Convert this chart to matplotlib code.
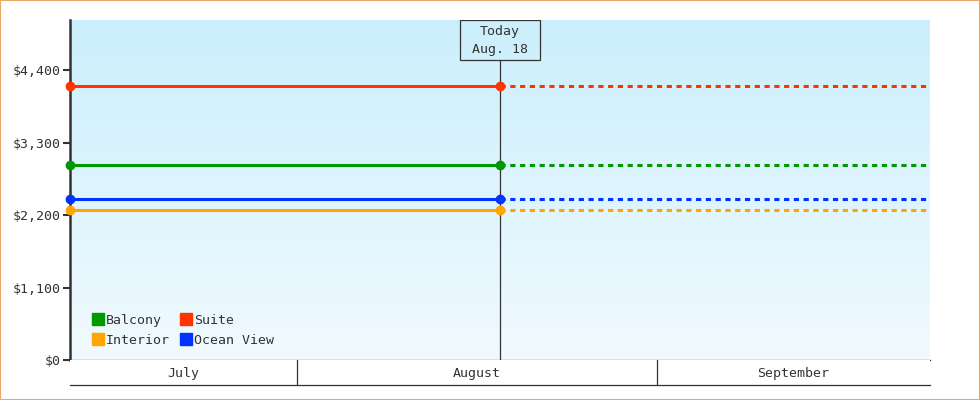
import matplotlib.pyplot as plt
import numpy as np
from matplotlib.patches import Rectangle

# days counted from Aug 1 (= 0)
x_start = -19.5
x_today = 17.5
x_end = 54.5
month_names = ['July', 'August', 'September']
month_edges = [x_start, 0, 31, x_end]

series = ['Balcony', 'Suite', 'Interior', 'Ocean View']
prices = [2955, 4150, 2270, 2440]
colors = ['#009900', '#ff3300', '#ffa500', '#0033ff']

yticks = [0, 1100, 2200, 3300, 4400]
ytick_labels = ['$0', '$1,100', '$2,200', '$3,300', '$4,400']

plt.rcParams['font.family'] = ['DejaVu Sans Mono']
ink = '#333333'

fig = plt.figure(figsize=(9.8, 4), dpi=100)
fig.patches.append(Rectangle((0, 0), 1, 1, transform=fig.transFigure,
                             fill=False, edgecolor='#e8a964', linewidth=1.5))

ax = fig.add_axes([70/980, 40/400, 860/980, 340/400])
ymax = 5159
ax.set_xlim(x_start, x_end)
ax.set_ylim(0, ymax)

# gradient background
grad = np.linspace(0, 1, 256).reshape(-1, 1)
top = np.array([203, 239, 252]) / 255
bot = np.array([241, 250, 255]) / 255
img = top * (1 - grad[..., None]) + bot * grad[..., None]
img = np.repeat(img, 2, axis=1)
ax.imshow(img, extent=[x_start, x_end, 0, ymax], aspect='auto', zorder=0)

for name, p, c in zip(series, prices, colors):
    ax.plot([x_start, x_today], [p, p], color=c, lw=2.2, zorder=3,
            solid_capstyle='butt')
    ax.plot([x_today, x_end], [p, p], color=c, lw=2.2, zorder=3,
            dashes=(1.7, 1.5))
    ax.plot([x_start, x_today], [p, p], 'o', color=c, ms=6, zorder=4,
            clip_on=False)

# today marker
box_top = ymax * 300/340
ax.plot([x_today, x_today], [0, box_top], color=ink, lw=0.9, zorder=2)
ax.add_patch(Rectangle(((460-70)/860, 300/340), 80/860, 40/340,
                       transform=ax.transAxes, fill=False, ec=ink, lw=0.9,
                       zorder=5))
ax.text(x_today, ymax * 320/340, 'Today\nAug. 18', ha='center', va='center',
        fontsize=9.5, color=ink, linespacing=1.5, zorder=5)

ax.set_yticks(yticks)
ax.set_yticklabels(ytick_labels, fontsize=9.5, color=ink)
ax.set_xticks([])
ax.tick_params(axis='y', length=5, width=1.5, color=ink, pad=2)
for s in ['top', 'right']:
    ax.spines[s].set_visible(False)
ax.spines['left'].set_color(ink)
ax.spines['left'].set_linewidth(1.8)
ax.spines['bottom'].set_color(ink)
ax.spines['bottom'].set_linewidth(0.9)

# legend (matplotlib fills columns first)
order = [0, 2, 1, 3]
handles = [plt.Line2D([], [], marker='s', ls='', color=colors[i], ms=8)
           for i in order]
leg = ax.legend(handles, [series[i] for i in order], ncol=2, loc='lower left',
                bbox_to_anchor=(0.008, 0.0), frameon=False, fontsize=9.5,
                handletextpad=0.0, columnspacing=0.65, labelspacing=0.55,
                handlelength=1.2, borderaxespad=0.6)
for t in leg.get_texts():
    t.set_color(ink)

# month band
mx = fig.add_axes([70/980, 15/400, 860/980, 25/400])
mx.set_xlim(x_start, x_end)
mx.set_ylim(0, 1)
mx.set_xticks([])
mx.set_yticks([])
for s in ['top', 'left', 'right']:
    mx.spines[s].set_visible(False)
mx.spines['bottom'].set_color(ink)
mx.spines['bottom'].set_linewidth(0.9)
for e in month_edges[1:-1]:
    mx.plot([e, e], [0, 1], color=ink, lw=0.9)
for i, m in enumerate(month_names):
    mx.text((month_edges[i] + month_edges[i + 1]) / 2, 0.45, m,
            ha='center', va='center', fontsize=9.5, color=ink)

fig.savefig('out.png', dpi=100)
